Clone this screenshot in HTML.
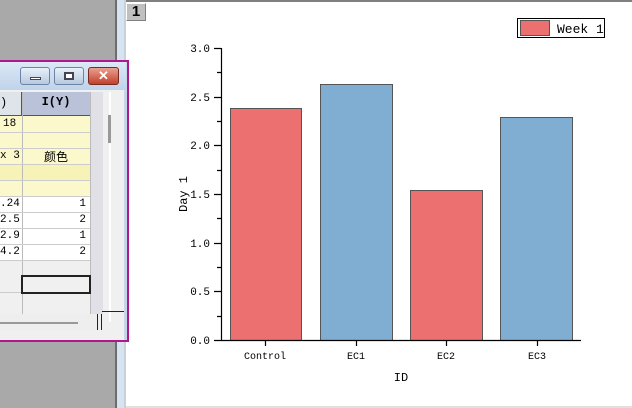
<!DOCTYPE html>
<html><head><meta charset="utf-8"><style>
body{margin:0;width:632px;height:408px;position:relative;overflow:hidden;background:#fff;font-family:"Liberation Mono","Noto Sans CJK SC",monospace;}
div{position:absolute;box-sizing:border-box;}
.c{font-size:11px;color:#000;}
</style></head><body>
<div style="left:0;top:0;width:115px;height:408px;background:#a9a9a9"></div>
<div style="left:115px;top:0;width:2px;height:408px;background:#6d6d6d"></div>
<div style="left:117px;top:0;width:7px;height:408px;background:#d6e3f1"></div>
<div style="left:124px;top:0;width:2px;height:408px;background:#c8d0da"></div>
<div style="left:126px;top:0;width:506px;height:2px;background:#808080"></div>
<div style="left:126px;top:406px;width:506px;height:2px;background:#e0e0e0"></div>
<div style="left:126px;top:3px;width:20px;height:18px;background:#c0c0c0;border:1px solid #fff;border-right-color:#808080;border-bottom-color:#808080;font:bold 15px 'Liberation Sans',sans-serif;text-align:center;line-height:16px">1</div>

<!-- worksheet window -->
<div style="left:-5px;top:60px;width:134px;height:282px;background:#c5d6ea;border:2px solid #b0168e;border-left:none"></div>
<div style="left:0;top:62px;width:126px;height:28px;background:linear-gradient(#dce8f5,#bfd3ea)"></div>
<div style="left:20px;top:67px;width:30px;height:18px;border:1px solid #6d84a6;border-radius:3px;background:linear-gradient(#e8f0f8,#b7c9df)"><div style="left:9px;top:9px;width:11px;height:3px;background:#fff;border:1px solid #445"></div></div>
<div style="left:54px;top:67px;width:30px;height:18px;border:1px solid #6d84a6;border-radius:3px;background:linear-gradient(#e8f0f8,#b7c9df)"><div style="left:9px;top:4px;width:10px;height:8px;border:2px solid #445;background:#fff"></div></div>
<div style="left:88px;top:67px;width:31px;height:18px;border:1px solid #7a2a20;border-radius:3px;background:linear-gradient(#e9a090,#c2402d);color:#fff;font:bold 13px 'Liberation Sans';text-align:center;line-height:16px">✕</div>
<div style="left:0;top:90px;width:124px;height:250px;background:#f0f0f0"></div>
<div style="left:0;top:92px;width:90px;height:24px;background:#b9c2d9;border-bottom:1px solid #555"></div>
<div style="left:0;top:92px;width:22px;height:24px;background:#dfe3ea;border-bottom:1px solid #555;border-right:1px solid #555"></div>
<div class="c" style="left:0;top:96px;font-size:12px">)</div>
<div class="c" style="left:22px;top:95px;width:68px;text-align:center;font-size:12px;font-weight:bold">I(Y)</div>
<div style="left:0;top:116px;width:90px;height:80px;background:#fbf8cc"></div>
<div style="left:0;top:164px;width:90px;height:16px;background:#f7f2b5"></div>
<div style="left:0;top:196px;width:90px;height:64px;background:#fff"></div>
<div style="left:22px;top:92px;width:1px;height:222px;background:#bbb"></div>
<div style="left:90px;top:92px;width:1px;height:222px;background:#bbb"></div>
<div style="left:0;top:132px;width:90px;height:1px;background:#ccc"></div>
<div style="left:0;top:148px;width:90px;height:1px;background:#ccc"></div>
<div style="left:0;top:164px;width:90px;height:1px;background:#ccc"></div>
<div style="left:0;top:180px;width:90px;height:1px;background:#ccc"></div>
<div style="left:0;top:196px;width:90px;height:1px;background:#ccc"></div>
<div style="left:0;top:212px;width:90px;height:1px;background:#ccc"></div>
<div style="left:0;top:228px;width:90px;height:1px;background:#ccc"></div>
<div style="left:0;top:244px;width:90px;height:1px;background:#ccc"></div>
<div style="left:0;top:260px;width:90px;height:1px;background:#ccc"></div>
<div style="left:0;top:292px;width:90px;height:1px;background:#ccc"></div>
<div class="c" style="left:3px;top:118px">18</div>
<div class="c" style="left:0;top:150px">x 3</div>
<div class="c" style="left:22px;top:148px;width:68px;text-align:center;font-size:12px">颜色</div>
<div class="c" style="left:0;top:198px">.24</div><div class="c" style="left:70px;top:198px;width:16px;text-align:right">1</div>
<div class="c" style="left:0;top:214px">2.5</div><div class="c" style="left:70px;top:214px;width:16px;text-align:right">2</div>
<div class="c" style="left:0;top:230px">2.9</div><div class="c" style="left:70px;top:230px;width:16px;text-align:right">1</div>
<div class="c" style="left:0;top:246px">4.2</div><div class="c" style="left:70px;top:246px;width:16px;text-align:right">2</div>
<div style="left:21px;top:275px;width:70px;height:19px;border:2px solid #222"></div>
<div style="left:91px;top:92px;width:12px;height:222px;background:#e0e0e6"></div>
<div style="left:109px;top:92px;width:2px;height:230px;background:#fff"></div>
<div style="left:108px;top:115px;width:3px;height:28px;background:#999"></div>
<div style="left:0;top:314px;width:100px;height:16px;background:#eee"></div>
<div style="left:0;top:322px;width:78px;height:2px;background:#999"></div>
<div style="left:97px;top:314px;width:1px;height:16px;background:#222"></div>
<div style="left:101px;top:314px;width:1px;height:16px;background:#222"></div>
<div style="left:102px;top:311px;width:22px;height:1px;background:#222"></div>

<!-- chart -->
<svg style="position:absolute;left:0;top:0" width="632" height="408">
<g fill="#ed7071" stroke="#555" stroke-width="1">
<rect x="230.5" y="108.5" width="71" height="232"/>
<rect x="410.5" y="190.5" width="72" height="150"/>
</g>
<g fill="#80aed3" stroke="#555" stroke-width="1">
<rect x="320.5" y="84.5" width="72" height="256"/>
<rect x="500.5" y="117.5" width="72" height="223"/>
</g>
<g stroke="#000" stroke-width="1.2" fill="none">
<path d="M221.5 48V341M221 340.5H581"/>
<path d="M214 48.5H221M214 97.5H221M214 145.5H221M214 194.5H221M214 243.5H221M214 291.5H221M214 340.5H221"/>
<path d="M217 72.5H221M217 121.5H221M217 170.5H221M217 218.5H221M217 267.5H221M217 316.5H221"/>
<path d="M265.5 341V346M356.5 341V346M446.5 341V346M537.5 341V346"/>
</g>
<g font-family="Liberation Mono, monospace" font-size="11" text-anchor="end" fill="#000">
<text x="210" y="52">3.0</text><text x="210" y="101">2.5</text><text x="210" y="149">2.0</text>
<text x="210" y="198">1.5</text><text x="210" y="247">1.0</text><text x="210" y="295">0.5</text><text x="210" y="344">0.0</text>
</g>
<g font-family="Liberation Mono, monospace" font-size="10" text-anchor="middle" fill="#000">
<text x="265" y="359">Control</text><text x="356" y="359">EC1</text><text x="446" y="359">EC2</text><text x="537" y="359">EC3</text>
</g>
<text x="401" y="381" font-family="Liberation Mono, monospace" font-size="12" text-anchor="middle">ID</text>
<text transform="translate(187,194) rotate(-90)" font-family="Liberation Mono, monospace" font-size="12" text-anchor="middle">Day 1</text>
<rect x="517.5" y="18.5" width="87" height="19" fill="#fff" stroke="#000"/>
<rect x="520.5" y="20.5" width="29" height="15" fill="#ed7071" stroke="#555"/>
<text x="557" y="33" font-family="Liberation Mono, monospace" font-size="13">Week 1</text>
</svg>
</body></html>
